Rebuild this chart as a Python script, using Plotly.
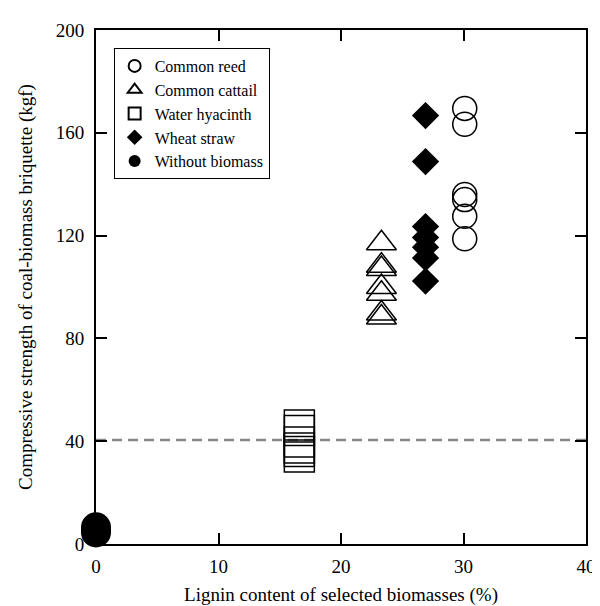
import plotly.graph_objects as go

# Lignin content (%) per biomass
reed_x = [30.1] * 6
reed_y = [169.5, 163.3, 136.0, 134.0, 127.5, 118.8]

cattail_x = [23.3] * 7
cattail_y = [117.0, 108.3, 107.0, 100.0, 97.4, 89.7, 88.1]

hyacinth_x = [16.6] * 6
hyacinth_y = [46.3, 44.2, 39.7, 37.4, 36.0, 33.9]

wheat_x = [26.9] * 7
wheat_y = [166.7, 148.8, 123.5, 119.3, 115.5, 111.3, 102.3]

without_x = [0, 0, 0]
without_y = [4.5, 5.5, 6.5]

ref_x = [0, 40]
ref_y = [40.5, 40.5]

FONT = "Liberation Serif, Times New Roman, serif"

fig = go.Figure()
fig.add_trace(go.Scatter(x=ref_x, y=ref_y, mode="lines", showlegend=False,
                         line=dict(color="#888888", width=2.5, dash="10px,6px"),
                         hoverinfo="skip"))
fig.add_trace(go.Scatter(x=reed_x, y=reed_y, mode="markers", name="Common reed",
                         marker=dict(symbol="circle-open", size=24, color="black",
                                     line=dict(width=1.5, color="black")),
                         cliponaxis=False))
fig.add_trace(go.Scatter(x=cattail_x, y=cattail_y, mode="markers", name="Common cattail",
                         marker=dict(symbol="triangle-up-open", size=26, color="black",
                                     line=dict(width=1.5, color="black")),
                         cliponaxis=False))
fig.add_trace(go.Scatter(x=hyacinth_x, y=hyacinth_y, mode="markers", name="Water hyacinth",
                         marker=dict(symbol="square-open", size=30, color="black",
                                     line=dict(width=1.5, color="black")),
                         cliponaxis=False))
fig.add_trace(go.Scatter(x=wheat_x, y=wheat_y, mode="markers", name="Wheat straw",
                         marker=dict(symbol="diamond", size=21, color="black",
                                     line=dict(width=0, color="black")),
                         cliponaxis=False))
fig.add_trace(go.Scatter(x=without_x, y=without_y, mode="markers", name="Without biomass",
                         marker=dict(symbol="circle", size=30, color="black",
                                     line=dict(width=0, color="black")),
                         cliponaxis=False))

axis_common = dict(showline=True, linecolor="black", linewidth=2, mirror="ticks",
                   ticks="inside", ticklen=11, tickwidth=1.5, tickcolor="black",
                   showgrid=False, zeroline=False,
                   tickfont=dict(family=FONT, size=19, color="black"))

fig.update_xaxes(range=[0, 40], tickvals=[0, 10, 20, 30, 40],
                 ticklabelstandoff=4,
                 title=dict(text="Lignin content of selected biomasses (%)",
                            font=dict(family=FONT, size=19, color="black"), standoff=12),
                 **axis_common)
fig.update_yaxes(range=[0, 200], tickvals=[0, 40, 80, 120, 160, 200],
                 ticklabelstandoff=6,
                 title=dict(text="Compressive strength of coal-biomass briquette (kgf)",
                            font=dict(family=FONT, size=19, color="black"), standoff=18),
                 **axis_common)

fig.update_layout(
    width=600, height=606,
    margin=dict(l=88, r=14, t=21, b=65),
    paper_bgcolor="white", plot_bgcolor="white",
    font=dict(family=FONT, size=16, color="black"),
    legend=dict(x=0.036, y=0.965, xanchor="left", yanchor="top",
                bordercolor="black", borderwidth=1, bgcolor="white",
                font=dict(family=FONT, size=16, color="black"),
                itemsizing="constant", tracegroupgap=0),
    showlegend=True,
)

fig.write_html("out.html")
